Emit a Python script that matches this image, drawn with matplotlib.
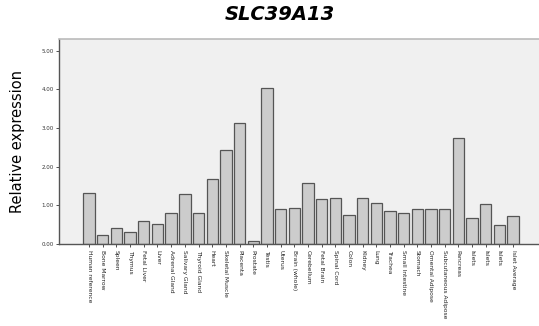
import numpy as np
import matplotlib
matplotlib.use('Agg')
from matplotlib import pyplot as plt

tissues = ['Human reference', 'Bone Marrow', 'Spleen', 'Thymus', 'Fetal Liver',
           'Liver', 'Adrenal Gland', 'Salivary Gland', 'Thyroid Gland', 'Heart',
           'Skeletal Muscle', 'Placenta', 'Prostate', 'Testis', 'Uterus',
           'Brain (whole)', 'Cerebellum', 'Fetal Brain', 'Spinal Cord', 'Colon',
           'Kidney', 'Lung', 'Trachea', 'Small Intestine', 'Stomach',
           'Omental Adipose', 'Subcutaneous Adipose', 'Pancreas', 'Islets',
           'Islets', 'Islets', 'Islet Average']
expression = [1.33, 0.23, 0.41, 0.32, 0.60, 0.51, 0.80, 1.30, 0.80, 1.68,
              2.43, 3.12, 0.08, 4.04, 0.91, 0.94, 1.59, 1.16, 1.20, 0.75,
              1.20, 1.07, 0.85, 0.81, 0.90, 0.90, 0.91, 2.75, 0.67, 1.04,
              0.50, 0.72]
yticks = [0, 1, 2, 3, 4, 5]

fig = plt.figure(figsize=(5.39, 3.26), dpi=100)
ax = fig.add_axes([0.1095, 0.2515, 0.8905, 0.6285])
ax.set_facecolor('#f0f0f0')

x = np.arange(len(tissues))
ax.bar(x, expression, width=0.83, color='#cccccc', edgecolor='#555555', linewidth=0.9)

ax.set_xlim(-2.2, len(tissues) + 1.9 - 1)
ax.set_ylim(0, 5.3)
ax.set_yticks(yticks)
ax.set_yticklabels(['%.2f' % v for v in yticks], fontsize=4, color='#333333')
ax.set_xticks(x)
ax.set_xticklabels(tissues, rotation=270, fontsize=4.3, color='#222222')
ax.tick_params(axis='both', length=2.5, width=0.6, color='#333333', pad=1.5)

for s in ['left', 'bottom']:
    ax.spines[s].set_color('#555555')
    ax.spines[s].set_linewidth(1.0)
ax.spines['top'].set_color('#bbbbbb')
ax.spines['top'].set_linewidth(1.2)
ax.spines['right'].set_visible(False)

ax.set_ylabel('Relative expression', fontsize=10.5, labelpad=12)
fig.text(0.52, 0.955, 'SLC39A13', fontsize=14, fontweight='bold', fontstyle='italic',
         ha='center', va='center')

plt.savefig('out.png', dpi=100)
